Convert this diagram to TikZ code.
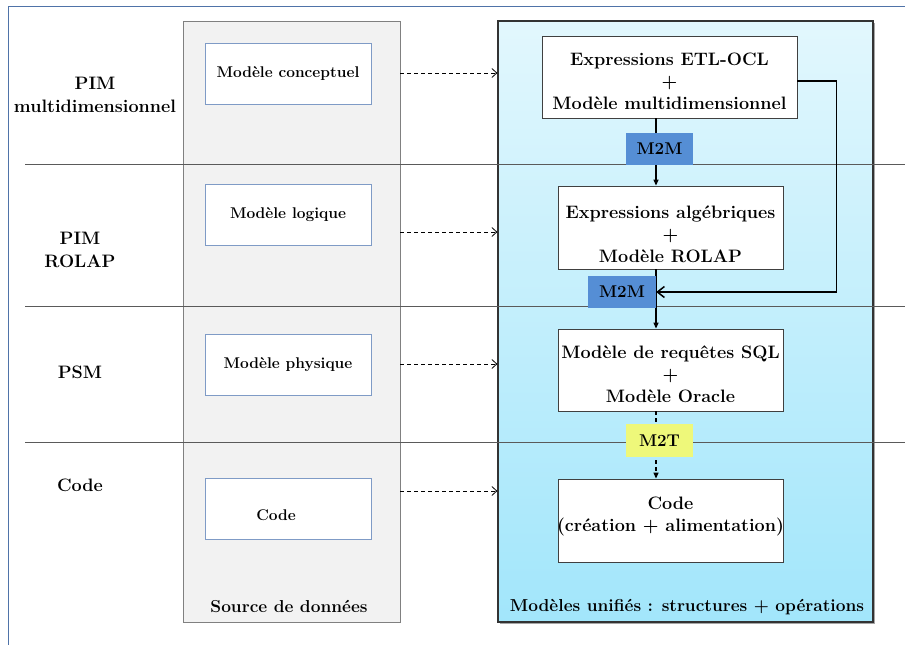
\documentclass[tikz,border=0pt]{standalone}
\usetikzlibrary{arrows.meta,shadows}
\definecolor{frameblue}{HTML}{4F73A8}
\definecolor{colgray}{HTML}{F2F2F2}
\definecolor{colborder}{HTML}{808080}
\definecolor{boxborder}{HTML}{7F9BC6}
\definecolor{cyantop}{HTML}{E2F7FD}
\definecolor{cyanbot}{HTML}{A2E6FB}
\definecolor{mblue}{HTML}{558ED5}
\definecolor{myellow}{HTML}{EEF87A}
\definecolor{rowline}{HTML}{5A5A5A}
\begin{document}
\begin{tikzpicture}[x=1pt,y=-1pt,
  srccolumn/.style={draw=colborder,fill=colgray,line width=0.8pt,minimum width=217pt,minimum height=601pt,inner sep=0pt},
  unicolumn/.style={draw=black!80,top color=cyantop,bottom color=cyanbot,line width=1.2pt,minimum width=375pt,minimum height=601pt,inner sep=0pt,
     drop shadow={shadow xshift=2pt,shadow yshift=-2pt,opacity=0.35,fill=black}},
  srcbox/.style={draw=boxborder,fill=white,line width=0.8pt,minimum width=166pt,minimum height=61pt,inner sep=0pt,font=\fontsize{15.5}{18}\selectfont\bfseries},
  srctext/.style={inner sep=0pt,font=\fontsize{15.5}{18}\selectfont\bfseries},
  unibox/.style={draw=black!75,fill=white,line width=0.8pt,minimum width=225pt,minimum height=83pt,inner sep=0pt},
  unitext/.style={inner sep=0pt,align=center,font=\fontsize{18}{22}\selectfont\bfseries},
  tbox/.style={minimum width=67pt,minimum height=32pt,inner sep=0pt,font=\fontsize{17}{19}\selectfont\bfseries},
  rowlabel/.style={align=center,inner sep=0pt,font=\fontsize{18}{23}\selectfont\bfseries},
  coltitle/.style={inner sep=0pt,font=\fontsize{17.3}{20}\selectfont\bfseries},
  rowsep/.style={draw=rowline,line width=0.8pt},
  dasharrow/.style={dash pattern=on 4pt off 3pt,line width=0.8pt,-{Straight Barb[length=5pt,width=9pt]}},
  downarrow/.style={line width=1.2pt,-{Triangle[length=6pt,width=5pt]}},
  dashdown/.style={dash pattern=on 4pt off 3pt,line width=1.2pt,-{Triangle[length=6pt,width=5pt]}},
  looparrow/.style={line width=1.5pt,-{Straight Barb[length=7pt,width=11pt]}}
]
\useasboundingbox (0,0) rectangle (905,645);
\fill[white] (0,0) rectangle (905,645);
% outer frame
\draw[frameblue,line width=1pt] (905,6) -- (8,6) -- (8,645);
% columns
\node[srccolumn] (srccol) at (291.5,321.5) {};
\node[unicolumn] (unicol) at (685.5,321.5) {};
% row separators
\draw[rowsep] (25,164) -- (905,164);
\draw[rowsep] (25,306) -- (905,306);
\draw[rowsep] (25,442) -- (905,442);
% row labels
\node[rowlabel] (lpim) at (95,95) {PIM\\multidimensionnel};
\node[rowlabel] (lrolap) at (80,250) {PIM\\ROLAP};
\node[rowlabel] (lpsm) at (80,372) {PSM};
\node[rowlabel] (lcode) at (80,485) {Code};
% source boxes
\node[srcbox] (s1) at (288,73.5) {Modèle conceptuel};
\node[srcbox] (s2) at (288,214.5) {Modèle logique};
\node[srcbox] (s3) at (288,364.5) {Modèle physique};
\node[srcbox] (s4) at (288,509) {};
\node[srctext] (s4t) at (276,515) {Code};
% unified boxes
\node[unibox,minimum width=255pt,minimum height=82pt] (b1) at (669.5,77) {};
\node[unibox] (b2) at (670.5,227.5) {};
\node[unibox,minimum height=82pt] (b3) at (670.5,370) {};
\node[unibox] (b4) at (670.5,520.5) {};
\node[unitext] (b1t) at (669.5,81) {Expressions ETL-OCL\\+\\Modèle multidimensionnel};
\node[unitext] (b2t) at (670.5,234) {Expressions algébriques\\+\\Modèle ROLAP};
\node[unitext] (b3t) at (670.5,374) {Modèle de requêtes SQL\\+\\Modèle Oracle};
\node[unitext] (b4t) at (670.5,516) {Code\\(création + alimentation)};
% column titles
\node[coltitle] (srctitle) at (289,607) {Source de données};
\node[coltitle] (unititle) at (687,607) {Modèles unifiés : structures + opérations};
% dashed arrows between columns
\draw[dasharrow] (srccol.east |- 0,73) -- (unicol.west |- 0,73);
\draw[dasharrow] (srccol.east |- 0,232) -- (unicol.west |- 0,232);
\draw[dasharrow] (srccol.east |- 0,364) -- (unicol.west |- 0,364);
\draw[dasharrow] (srccol.east |- 0,491) -- (unicol.west |- 0,491);
% vertical transformation arrows
\coordinate (vx) at (656,0);
\draw[downarrow] (b1.south -| vx) -- (b2.north -| vx);
\draw[downarrow] (b2.south -| vx) -- (b3.north -| vx);
\draw[dashdown] (b3.south -| vx) -- (b4.north -| vx);
% transformation labels
\node[tbox,fill=mblue] (m2m1) at (659.5,149) {M2M};
\node[tbox,fill=mblue,minimum width=68pt] (m2m2) at (622,292) {M2M};
\node[tbox,fill=myellow,minimum height=33pt] (m2t) at (659.5,440.5) {M2T};
% loop connector
\draw[looparrow] ([yshift=-4pt]b1.east) -- ++(39,0) |- (m2m2.east);
\end{tikzpicture}
\end{document}
